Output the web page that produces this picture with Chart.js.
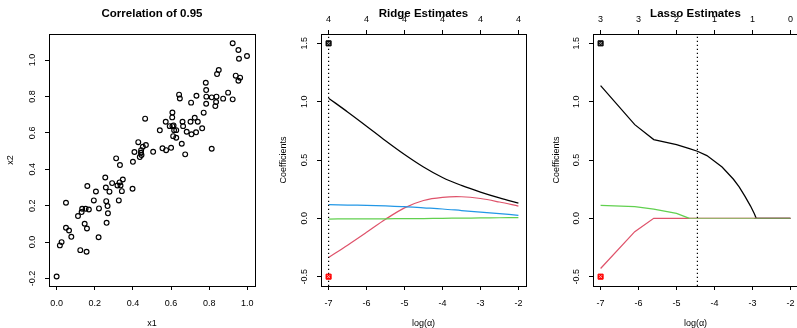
<!DOCTYPE html>
<html><head><meta charset="utf-8">
<script src="https://cdn.jsdelivr.net/npm/chart.js@4/dist/chart.umd.min.js"></script>
<style>
html,body{margin:0;padding:0;background:#fff;overflow:hidden;width:797px;height:328px;}
.p{position:absolute;top:0;height:328px;}
canvas{display:block;}
</style></head><body>
<div class="p" style="left:0;width:268px"><canvas id="c1" width="268" height="328"></canvas></div>
<div class="p" style="left:268px;width:267px"><canvas id="c2" width="267" height="328"></canvas></div>
<div class="p" style="left:535px;width:264px"><canvas id="c3" width="264" height="328"></canvas></div>
<script>
// ---------- data ----------
const x1Values = [0.0,0.017,0.026,0.049,0.049,0.065,0.077,0.112,0.124,0.131,0.134,0.147,0.152,0.157,0.159,0.161,0.169,0.195,0.206,0.22,0.222,0.255,0.258,0.26,0.262,0.267,0.269,0.277,0.291,0.312,0.319,0.326,0.33,0.332,0.335,0.342,0.347,0.40,0.398,0.408,0.428,0.436,0.442,0.443,0.445,0.452,0.464,0.468,0.506,0.541,0.555,0.572,0.574,0.593,0.60,0.607,0.606,0.607,0.611,0.613,0.616,0.627,0.627,0.642,0.646,0.656,0.66,0.663,0.674,0.682,0.705,0.702,0.707,0.724,0.731,0.733,0.74,0.763,0.771,0.782,0.784,0.785,0.784,0.813,0.813,0.832,0.836,0.838,0.841,0.85,0.873,0.899,0.923,0.923,0.939,0.953,0.956,0.953,0.962,0.998];
const x2Values = [-0.189,-0.018,0.0,0.216,0.079,0.064,0.029,0.143,-0.044,0.165,0.183,0.101,0.183,-0.053,0.075,0.308,0.179,0.229,0.278,0.027,0.185,0.355,0.300,0.225,0.106,0.198,0.158,0.277,0.324,0.46,0.311,0.229,0.328,0.423,0.311,0.28,0.344,0.441,0.293,0.495,0.549,0.467,0.491,0.505,0.478,0.524,0.678,0.533,0.496,0.614,0.515,0.661,0.505,0.637,0.518,0.712,0.685,0.637,0.582,0.641,0.614,0.573,0.615,0.81,0.789,0.54,0.661,0.637,0.482,0.606,0.766,0.661,0.592,0.683,0.603,0.804,0.661,0.625,0.711,0.875,0.835,0.799,0.76,0.513,0.795,0.747,0.769,0.799,0.923,0.945,0.788,0.821,1.092,0.784,0.914,1.055,1.007,0.886,0.903,1.022];

const scatterXTicks = [0, 0.2, 0.4, 0.6, 0.8, 1.0];
const scatterYTicks = [-0.2, 0, 0.2, 0.4, 0.6, 0.8, 1.0];
const logAlphaTicks = [-7, -6, -5, -4, -3, -2];
const coefTicks = [-0.5, 0, 0.5, 1.0, 1.5];
const ridgeTopLabels = ['4', '4', '4', '4', '4', '4'];
const lassoTopLabels = ['3', '3', '2', '1', '1', '0'];

const ridgeLogAlpha = [-7, -6.5, -6, -5.5, -5, -4.5, -4, -3.5, -3, -2.5, -2];
const ridgeBeta1 = [1.03, 0.912, 0.79, 0.665, 0.547, 0.44, 0.35, 0.282, 0.225, 0.175, 0.131];
const ridgeBeta2 = [-0.336, -0.23, -0.12, -0.008, 0.09, 0.153, 0.18, 0.185, 0.17, 0.14, 0.105];
const ridgeBeta3 = [-0.006, -0.005, -0.005, -0.004, -0.003, -0.002, 0.0, 0.002, 0.003, 0.005, 0.006];
const ridgeBeta4 = [0.117, 0.114, 0.111, 0.106, 0.1, 0.09, 0.08, 0.067, 0.054, 0.04, 0.026];

const lassoLogAlpha = [-7, -6.1, -5.6, -5.0, -4.66, -4.45, -4.2, -4.0, -3.8, -3.5, -3.35, -3.2, -3.05, -2.95, -2.9, -2.0];
const lassoBeta1 = [1.137, 0.803, 0.675, 0.632, 0.598, 0.575, 0.538, 0.49, 0.44, 0.335, 0.27, 0.19, 0.105, 0.04, 0, 0];
const lassoBeta2 = [-0.43, -0.114, 0, 0, 0, 0, 0, 0, 0, 0, 0, 0, 0, 0, 0, 0];
const lassoBeta3 = [0.111, 0.1, 0.078, 0.042, 0, 0, 0, 0, 0, 0, 0, 0, 0, 0, 0, 0];

const ridgeChosen = -7;
const lassoChosen = -4.45;
const markerLogAlpha = -7;
const markerHigh = 1.5;
const markerLow = -0.5;
const coefMin = -0.58, coefMax = 1.58;
const alphaMin = -7.2, alphaMax = -1.8;

// ---------- helpers ----------
const FONT = '"Liberation Sans", Arial, Helvetica, sans-serif';
Chart.defaults.font.family = FONT;
Chart.defaults.color = '#000';
const R_BLACK = '#000000', R_RED = '#DF536B', R_GREEN = '#61D04F', R_BLUE = '#2297E6';
const LW = 1.25;

function zeroPad(s){ s.paddingLeft = 0; s.paddingRight = 0; s.paddingTop = 0; s.paddingBottom = 0; }
function setTicks(vals){ return s => { s.ticks = vals.map(v => ({value: v})); }; }
const gridOpt = {display: true, drawOnChartArea: false, drawTicks: true, tickLength: 4, color: '#000', lineWidth: 1};
const borderOpt = {display: true, color: '#000', width: 1};

function bottomAxis(min, max, vals, fmt, title){
  return {type: 'linear', position: 'bottom', min, max,
    afterBuildTicks: setTicks(vals),
    afterFit: s => { s.height = 42; zeroPad(s); },
    grid: gridOpt, border: borderOpt,
    ticks: {color: '#000', font: {size: 9}, padding: 8, maxRotation: 0, minRotation: 0, autoSkip: false, callback: v => fmt(v)},
    title: {display: true, text: title, color: '#000', font: {size: 9, lineHeight: 0.9}, padding: {top: 0, bottom: 0}}
  };
}
function topAxis(min, max, vals, labels){
  return {type: 'linear', position: 'top', min, max,
    afterBuildTicks: setTicks(vals),
    afterFit: s => { s.height = 34; zeroPad(s); },
    grid: gridOpt, border: borderOpt,
    ticks: {color: '#000', font: {size: 9}, padding: 5, maxRotation: 0, minRotation: 0, autoSkip: false, callback: (v, i) => labels[i]}
  };
}
function leftAxis(min, max, vals, width, title, titlePad){
  return {type: 'linear', position: 'left', min, max,
    afterBuildTicks: setTicks(vals),
    afterFit: s => { s.width = width; zeroPad(s); },
    grid: gridOpt, border: borderOpt,
    ticks: {display: false},
    title: {display: true, text: title, color: '#000', font: {size: 9}, padding: {top: titlePad, bottom: 0}}
  };
}

const rPlugin = {
  id: 'rstyle',
  afterDraw(chart, args, opts){
    const {ctx, chartArea: a} = chart;
    ctx.save();
    ctx.strokeStyle = '#000'; ctx.lineWidth = 1;
    const L = Math.round(a.left - 0.5) + 0.5, T = Math.round(a.top - 0.5) + 0.5;
    const R = Math.round(a.right - 0.5) + 0.5, B = Math.round(a.bottom - 0.5) + 0.5;
    ctx.strokeRect(L, T, R - L, B - T);
    // rotated y tick labels (R style)
    const ys = chart.scales.y;
    ctx.fillStyle = '#000';
    ctx.font = '9px ' + FONT;
    ctx.textAlign = 'center'; ctx.textBaseline = 'middle';
    ys.ticks.forEach(t => {
      const py = ys.getPixelForValue(t.value);
      ctx.save();
      ctx.translate(a.left - 16, py);
      ctx.rotate(-Math.PI / 2);
      ctx.fillText(t.value.toFixed(1), 0, 0);
      ctx.restore();
    });
    // main title
    ctx.font = 'bold 11.5px ' + FONT;
    ctx.fillText(opts.title, (a.left + a.right) / 2, 13.5);
    ctx.restore();
  }
};

const baseOpts = (padding) => ({
  responsive: false, animation: false, devicePixelRatio: 1,
  layout: {padding, autoPadding: false}
});

function xy(xs, ys){ return xs.map((x, i) => ({x, y: ys[i]})); }
function lineDs(xs, ys, color, extra){
  return Object.assign({type: 'line', data: xy(xs, ys), borderColor: color, borderWidth: LW, pointRadius: 0, fill: false, tension: 0}, extra || {});
}
function markerDs(){
  return [
    {type: 'scatter', data: [{x: markerLogAlpha, y: markerHigh}], pointStyle: 'crossRot', pointRadius: 2, borderColor: '#9a9a9a', borderWidth: 1, backgroundColor: 'transparent'},
    {type: 'scatter', data: [{x: markerLogAlpha, y: markerLow}], pointStyle: 'crossRot', pointRadius: 2, borderColor: '#ffb0b0', borderWidth: 1, backgroundColor: 'transparent'},
    {type: 'scatter', data: [{x: markerLogAlpha, y: markerHigh}], pointStyle: 'rect', pointRadius: 3.6, borderColor: '#000', borderWidth: 1, backgroundColor: '#111'},
    {type: 'scatter', data: [{x: markerLogAlpha, y: markerLow}], pointStyle: 'rect', pointRadius: 3.6, borderColor: '#f00', borderWidth: 1, backgroundColor: '#f00'}
  ];
}
function vlineDs(x){
  return {type: 'line', data: [{x, y: coefMin}, {x, y: coefMax}], borderColor: '#000', borderWidth: 1.2, borderDash: [1.2, 2.8], pointRadius: 0, fill: false};
}
const pluginOpts = (title) => ({legend: {display: false}, tooltip: {enabled: false}, rstyle: {title}});
const smooth = {tension: 0.35};

// ---------- panel 1: scatter ----------
new Chart(document.getElementById('c1'), {
  type: 'scatter',
  data: {datasets: [{data: xy(x1Values, x2Values), pointStyle: 'circle', pointRadius: 2.4, borderWidth: 1.15, borderColor: '#000', backgroundColor: 'transparent'}]},
  options: Object.assign(baseOpts({left: 0, right: 13, top: 34, bottom: 0}), {
    scales: {
      x: bottomAxis(-0.04, 1.04, scatterXTicks, v => v.toFixed(1), 'x1'),
      y: leftAxis(-0.241, 1.143, scatterYTicks, 49, 'x2', 5)
    },
    plugins: pluginOpts('Correlation of 0.95')
  }),
  plugins: [rPlugin]
});

// ---------- panel 2: ridge ----------
new Chart(document.getElementById('c2'), {
  type: 'line',
  data: {datasets: [
    ...markerDs(),
    vlineDs(ridgeChosen),
    lineDs(ridgeLogAlpha, ridgeBeta4, R_BLUE, smooth),
    lineDs(ridgeLogAlpha, ridgeBeta3, R_GREEN, smooth),
    lineDs(ridgeLogAlpha, ridgeBeta2, R_RED, smooth),
    lineDs(ridgeLogAlpha, ridgeBeta1, R_BLACK, smooth)
  ]},
  options: Object.assign(baseOpts({left: 0, right: 9, top: 0, bottom: 0}), {
    scales: {
      x: bottomAxis(alphaMin, alphaMax, logAlphaTicks, v => String(v), 'log(\u03B1)'),
      x2: topAxis(alphaMin, alphaMax, logAlphaTicks, ridgeTopLabels),
      y: leftAxis(coefMin, coefMax, coefTicks, 53, 'Coefficients', 9.9)
    },
    plugins: pluginOpts('Ridge Estimates')
  }),
  plugins: [rPlugin]
});

// ---------- panel 3: lasso ----------
const zeroSeg = (c1, c2) => ({borderColor: ctx => {
  if (ctx.p0.parsed.y === 0 && ctx.p1.parsed.y === 0) return ctx.p0.parsed.x >= -2.95 ? c2 : c1;
  return undefined;
}});
new Chart(document.getElementById('c3'), {
  type: 'line',
  data: {datasets: [
    ...markerDs(),
    vlineDs(lassoChosen),
    lineDs(lassoLogAlpha, lassoBeta3, R_GREEN, {segment: zeroSeg('#98b26c', '#7b8f57')}),
    lineDs(lassoLogAlpha, lassoBeta2, R_RED),
    lineDs(lassoLogAlpha, lassoBeta1, R_BLACK)
  ]},
  options: Object.assign(baseOpts({left: 0, right: 1, top: 0, bottom: 0}), {
    scales: {
      x: bottomAxis(alphaMin, alphaMax, logAlphaTicks, v => String(v), 'log(\u03B1)'),
      x2: topAxis(alphaMin, alphaMax, logAlphaTicks, lassoTopLabels),
      y: leftAxis(coefMin, coefMax, coefTicks, 58, 'Coefficients', 16)
    },
    plugins: pluginOpts('Lasso Estimates')
  }),
  plugins: [rPlugin]
});
</script>
</body></html>
